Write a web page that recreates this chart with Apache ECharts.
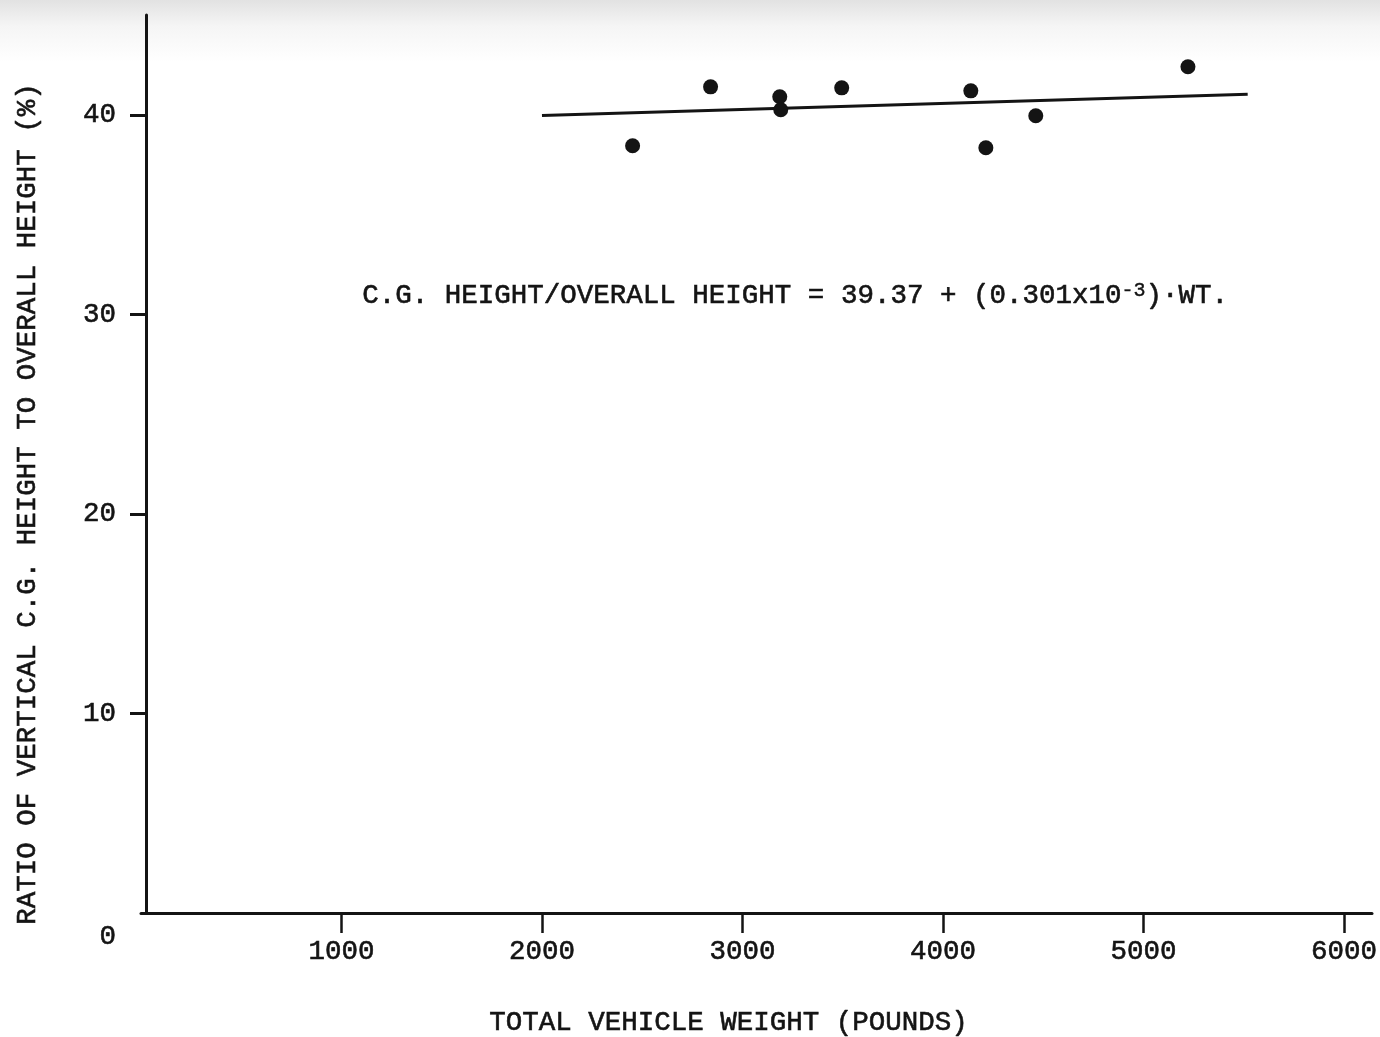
<!DOCTYPE html>
<html>
<head>
<meta charset="utf-8">
<script src="https://cdn.jsdelivr.net/npm/echarts@6/dist/echarts.min.js"></script>
<style>
  html, body { margin: 0; padding: 0; background: #fff; }
  #chart { width: 1380px; height: 1037px; }
</style>
</head>
<body>
<div id="chart"></div>
<script>
// Measured vehicles: total weight (lb) and C.G. height / overall height (%)
const weights = [2452, 2841, 3186, 3191, 3495, 4139, 4214, 4463, 5222];
const ratios  = [38.45, 41.40, 40.90, 40.25, 41.35, 41.20, 38.35, 39.95, 42.41];

// End points of the fitted line: 39.37 + 0.301e-3 * WT
const fitLine = [[2000, 39.97], [5520, 41.03]];

// Tick positions and labels
const xTicks  = [1000, 2000, 3000, 4000, 5000, 6000];
const yTicks  = [10, 20, 30, 40];
const yLabels = [0, 10, 20, 30, 40];

const FONT = "'Liberation Mono', 'Courier New', monospace";
const INK = '#141414';
const FS = 27.5;

// typewriter-like weight: thin stroke around the glyphs
const typed = { fontFamily: FONT, fontSize: FS, color: INK, textBorderColor: INK, textBorderWidth: 0.6 };
// same look for the raw zrender text of the graphic component
const typedZr = { fontFamily: FONT, fontSize: FS, fill: INK, stroke: INK, lineWidth: 0.6 };

const chart = echarts.init(document.getElementById('chart'), null, { renderer: 'canvas' });

const option = {
  animation: false,
  backgroundColor: {
    type: 'linear', x: 0, y: 0, x2: 0, y2: 1,
    colorStops: [
      { offset: 0, color: '#e2e2e2' },
      { offset: 0.025, color: '#f5f5f5' },
      { offset: 0.06, color: '#ffffff' },
      { offset: 1, color: '#ffffff' }
    ]
  },
  grid: { left: 141, right: 8, top: 15, bottom: 124, outerBoundsMode: 'none' },
  xAxis: {
    type: 'value',
    min: 0,
    max: 6140,
    interval: 1000,
    name: 'TOTAL VEHICLE WEIGHT (POUNDS)',
    nameLocation: 'middle',
    nameGap: 96,
    nameTextStyle: Object.assign({}, typed, { padding: [0, 56, 0, 0] }),
    axisLine: { lineStyle: { color: INK, width: 3 } },
    axisTick: { customValues: xTicks, length: 20, lineStyle: { color: INK, width: 2.5 } },
    axisLabel: Object.assign({}, typed, {
      customValues: xTicks,
      margin: 25,
      formatter: v => String(v)
    }),
    splitLine: { show: false }
  },
  yAxis: {
    type: 'value',
    min: 0,
    max: 45,
    interval: 10,
    offset: -5,
    name: 'RATIO OF VERTICAL C.G. HEIGHT TO OVERALL HEIGHT (%)',
    nameLocation: 'middle',
    nameRotate: 90,
    nameGap: 104,
    nameTextStyle: Object.assign({}, typed, { padding: [0, 80, 0, 0] }),
    axisLine: { lineStyle: { color: INK, width: 3 } },
    axisTick: { customValues: yTicks, length: 16, lineStyle: { color: INK, width: 3 } },
    axisLabel: Object.assign({}, typed, {
      customValues: yLabels,
      margin: 30,
      formatter: v => (v === 0 ? '{z|0}' : String(v)),
      rich: { z: Object.assign({}, typed, { padding: [48, 0, 0, 0] }) }
    }),
    splitLine: { show: false }
  },
  graphic: [{
    type: 'text',
    left: 362,
    top: 281,
    style: {
      text: '{m|C.G. HEIGHT/OVERALL HEIGHT = 39.37 + (0.301x10}{s|-3}{m|)·WT.}',
      rich: {
        m: Object.assign({}, typedZr, { lineHeight: 30 }),
        s: Object.assign({}, typedZr, { fontSize: 20, lineHeight: 16, verticalAlign: 'top', lineWidth: 0.4 })
      }
    }
  }],
  series: [
    {
      type: 'line',
      data: fitLine,
      showSymbol: false,
      silent: true,
      lineStyle: { color: INK, width: 3 },
      z: 2
    },
    {
      type: 'scatter',
      data: weights.map((w, i) => [w, ratios[i]]),
      symbol: 'circle',
      symbolSize: 15,
      itemStyle: { color: INK, opacity: 1 },
      z: 3
    }
  ]
};

chart.setOption(option);
</script>
</body>
</html>
